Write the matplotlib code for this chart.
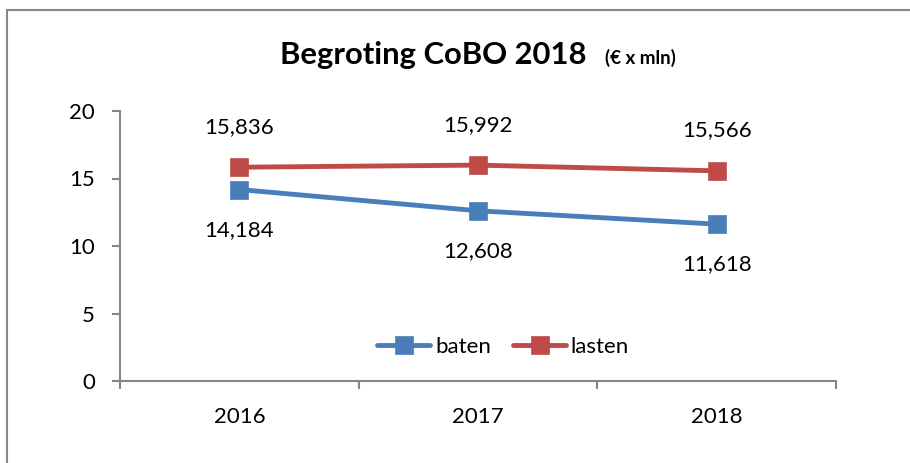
import matplotlib.pyplot as plt
from matplotlib.patches import Rectangle

# data
jaren = ['2016', '2017', '2018']
baten = [14.184, 12.608, 11.618]
lasten = [15.836, 15.992, 15.566]
baten_labels = ['14,184', '12,608', '11,618']
lasten_labels = ['15,836', '15,992', '15,566']

plt.rcParams['font.family'] = ['Lato', 'DejaVu Sans']

blauw = '#4A7EBB'
rood = '#BE4B48'
grijs = '#868686'

fig = plt.figure(figsize=(9.1, 4.63), dpi=100)
ax = fig.add_axes([120/910, 1-381/463, (836-120)/910, (381-111)/463])

x = list(range(len(jaren)))
ax.plot(x, baten, color=blauw, lw=3.5, marker='s', ms=13, mew=0.5, label='baten',
        solid_capstyle='round')
ax.plot(x, lasten, color=rood, lw=3.5, marker='s', ms=13, mew=0.5, label='lasten',
        solid_capstyle='round')

# data labels
for i in x:
    ax.annotate(lasten_labels[i], (i, lasten[i]), xytext=(0, 29), textcoords='offset points',
                ha='center', va='center', fontsize=16)
    ax.annotate(baten_labels[i], (i, baten[i]), xytext=(0, -29), textcoords='offset points',
                ha='center', va='center', fontsize=16)

ax.set_xlim(-0.5, 2.5)
ax.set_ylim(0, 20)
ax.set_yticks([0, 5, 10, 15, 20])
ax.set_xticks(x)
ax.set_xticklabels(jaren)
ax.set_xticks([-0.5, 0.5, 1.5, 2.5], minor=True)
ax.tick_params(axis='x', which='major', length=0, pad=19, labelsize=16)
ax.tick_params(axis='x', which='minor', length=6, width=1.5, color=grijs, direction='out')
ax.tick_params(axis='y', length=6, width=1.5, color=grijs, pad=12, labelsize=16)

for s in ['top', 'right']:
    ax.spines[s].set_visible(False)
for s in ['left', 'bottom']:
    ax.spines[s].set_color(grijs)
    ax.spines[s].set_linewidth(1.5)

leg = ax.legend(loc='center', bbox_to_anchor=(0.535, 0.126), ncol=2, frameon=False,
                fontsize=16, handlelength=2.4, handletextpad=0.2, columnspacing=1.0)

# title
fig.text(280/910, 1-64/463, 'Begroting CoBO 2018', fontsize=22.3, fontweight='bold',
         ha='left', va='baseline')
fig.text(605/910, 1-64/463, '(€ x mln)', fontsize=13.5, fontweight='bold',
         ha='left', va='baseline')

# chart frame
fig.patches.append(Rectangle((7/910, -0.1), 1.2, 1-10/463+0.1, transform=fig.transFigure,
                             fill=False, edgecolor=grijs, lw=1.5))

fig.savefig('out.png', dpi=100)
